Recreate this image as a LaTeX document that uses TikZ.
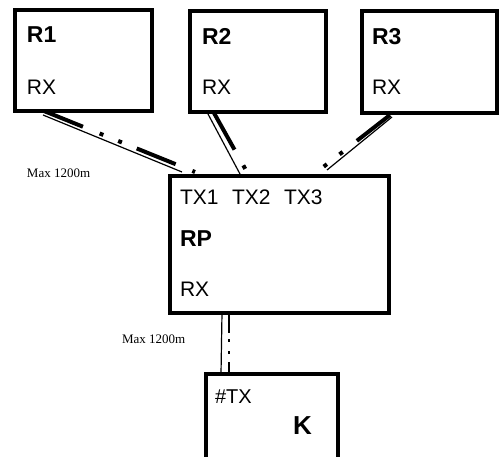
\documentclass[tikz,border=0pt]{standalone}
\usepackage{fontspec}
\setmainfont{Liberation Sans}
\newfontfamily\timesfont{Liberation Serif}
\usetikzlibrary{calc}
\begin{document}
\begin{tikzpicture}[x=1pt,y=-1pt,
  box/.style={draw,line width=4pt,rectangle,inner sep=0pt,outer sep=0pt,fill=white},
  txt/.style={anchor=base west,inner sep=0pt,outer sep=0pt,font=\fontsize{21}{21}\selectfont},
  btxt/.style={anchor=base west,inner sep=0pt,outer sep=0pt,font=\fontsize{23}{23}\selectfont\bfseries},
  dist/.style={anchor=base west,inner sep=0pt,outer sep=0pt,font=\timesfont\fontsize{13}{13}\selectfont},
  thinline/.style={line width=1.2pt},
  dashdotthick/.style={line width=4pt,dash pattern=on 42pt off 18pt on 4pt off 16pt on 4pt off 16pt},
  dashdotk/.style={line width=2pt,dash pattern=on 20pt off 6pt on 3pt off 9pt on 3pt off 8pt on 20pt off 100pt}
]
\useasboundingbox (0,0) rectangle (501,457);
\clip (0,0) rectangle (501,457);
% boxes
\node[box,minimum width=137pt,minimum height=101pt] (R1) at (83.5,60.5) {};
\node[box,minimum width=136pt,minimum height=101pt] (R2) at (258,61.5) {};
\node[box,minimum width=135pt,minimum height=102pt] (R3) at (429.5,62) {};
\node[box,minimum width=219pt,minimum height=137pt] (RP) at (279.5,244.5) {};
\node[box,minimum width=132pt,minimum height=126pt] (K) at (272,437) {};
% connectors R1-RP
\draw[thinline] ($(R1.south west)+(28,4)$) -- ($(RP.north west)+(12,-4)$);
\draw[dashdotthick] ($(R1.south west)+(29,0)$) -- ($(RP.north west)+(25,-4)$);
% R2-RP
\draw[thinline] ($(R2.south west)+(18,2)$) -- ($(RP.north west)+(70,-2)$);
\draw[dashdotthick] ($(R2.south west)+(24,1)$) -- ($(RP.north west)+(77,-4)$);
% R3-RP
\draw[thinline] ($(R3.south west)+(30,4)$) -- ($(RP.north west)+(157,-6)$);
\draw[dashdotthick] ($(R3.south west)+(28,2)$) -- ($(RP.north west)+(152,-8)$);
% RP-K
\draw[thinline] ($(RP.south west)+(52,0)$) -- ($(K.north west)+(15,0)$);
\draw[dashdotk] ($(RP.south west)+(59,0)$) -- ($(K.north west)+(23,0)$);
% texts
\node[btxt] (tR1) at (27,43) {R1};
\node[txt] (rx1) at (27,95) {RX};
\node[btxt] (tR2) at (202,45) {R2};
\node[txt] (rx2) at (202,95) {RX};
\node[btxt] (tR3) at (372,45) {R3};
\node[txt] (rx3) at (372,95) {RX};
\node[txt] (tx1) at (180,205) {TX1};
\node[txt] (tx2) at (232,205) {TX2};
\node[txt] (tx3) at (284,205) {TX3};
\node[btxt] (tRP) at (180,247) {RP};
\node[txt] (rxp) at (180,297) {RX};
\node[txt,font=\fontsize{20}{20}\selectfont] (htx) at (215,403) {\#TX};
\node[btxt,font=\fontsize{26}{26}\selectfont\bfseries] (tK) at (293,434) {K};
\node[dist] (m1) at (27,178) {Max 1200m};
\node[dist] (m2) at (122,343) {Max 1200m};
\end{tikzpicture}
\end{document}
